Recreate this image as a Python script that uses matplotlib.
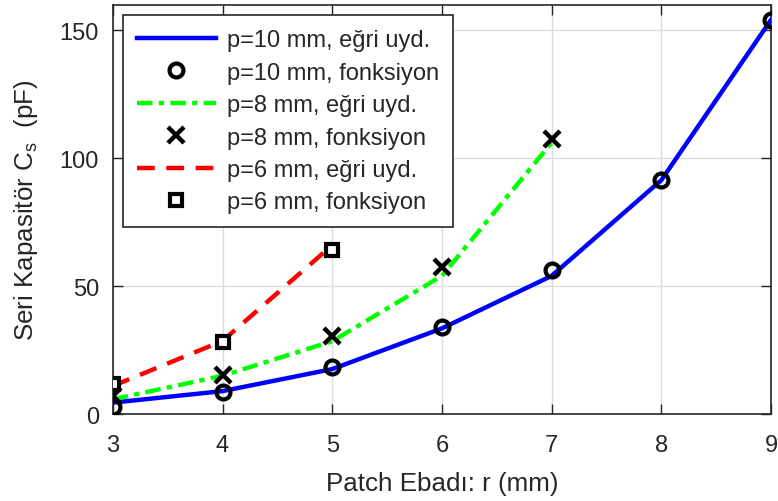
import numpy as np
import matplotlib.pyplot as plt

plt.rcParams['font.family'] = ['Liberation Sans', 'DejaVu Sans']
plt.rcParams['mathtext.fontset'] = 'custom'
plt.rcParams['mathtext.rm'] = 'Liberation Sans'
plt.rcParams['mathtext.it'] = 'Liberation Sans'

# patch size r (mm)
r10 = [3, 4, 5, 6, 7, 8, 9]
r8 = [3, 4, 5, 6, 7]
r6 = [3, 4, 5]

# p=10 mm
fit10 = [4.5, 9.0, 17.6, 33.5, 54.0, 91.4, 154.0]
fun10 = [2.7, 8.5, 18.3, 34.0, 56.4, 91.4, 154.0]
# p=8 mm
fit8 = [5.8, 15.0, 28.5, 54.0, 106.0]
fun8 = [7.0, 15.2, 30.6, 57.3, 107.4]
# p=6 mm
fit6 = [11.0, 28.6, 66.0]
fun6 = [11.7, 28.3, 64.2]

txt = '#262626'
fs = 17
lfs = 18.7

fig = plt.figure(figsize=(7.78, 5.02), dpi=100)
ax = fig.add_axes([0.145, 0.173, 0.846, 0.816])

ax.plot(r10, fit10, '-', color='#0000ff', lw=3.2, label='p=10 mm, eğri uyd.', zorder=3)
ax.plot(r10, fun10, 'o', ms=10, mfc='none', mec='black', mew=3, label='p=10 mm, fonksiyon', zorder=4)
ax.plot(r8, fit8, color='#00ff00', lw=3.2, dashes=(3.5, 1.4, 1.2, 1.4), label='p=8 mm, eğri uyd.', zorder=3)
ax.plot(r8, fun8, 'x', ms=12, mec='black', mew=3.2, label='p=8 mm, fonksiyon', zorder=4)
ax.plot(r6, fit6, color='#ff0000', lw=3.2, dashes=(4, 2.6), label='p=6 mm, eğri uyd.', zorder=3)
ax.plot(r6, fun6, 's', ms=8, mfc='white', mec='black', mew=3, label='p=6 mm, fonksiyon', zorder=4)

ax.set_xlim(3, 9)
ax.set_ylim(0, 160)
ax.set_xticks([3, 4, 5, 6, 7, 8, 9])
ax.set_yticks([0, 50, 100, 150])
ax.grid(True, color='#dcdcdc', lw=1)
ax.set_axisbelow(True)
ax.tick_params(direction='in', top=True, right=True, length=7, width=1,
               labelsize=fs, colors=txt)
ax.tick_params(axis='x', pad=14)
ax.tick_params(axis='y', pad=10)
for s in ax.spines.values():
    s.set_color(txt)
    s.set_linewidth(1.2)

ax.set_xlabel('Patch Ebadı: r (mm)', fontsize=lfs, color=txt, labelpad=11)
ax.set_ylabel(r'Seri Kapasitör C$_\mathregular{s}$  (pF)', fontsize=lfs, color=txt, labelpad=14)

leg = ax.legend(loc='upper left', bbox_to_anchor=(0.015, 0.974), fontsize=fs,
                handlelength=3.35, labelspacing=0.44, borderpad=0.6, handletextpad=0.45,
                fancybox=False, framealpha=1, edgecolor=txt, borderaxespad=0)
leg.get_frame().set_linewidth(1.2)
for t in leg.get_texts():
    t.set_color(txt)

plt.savefig('out.png', dpi=100)
